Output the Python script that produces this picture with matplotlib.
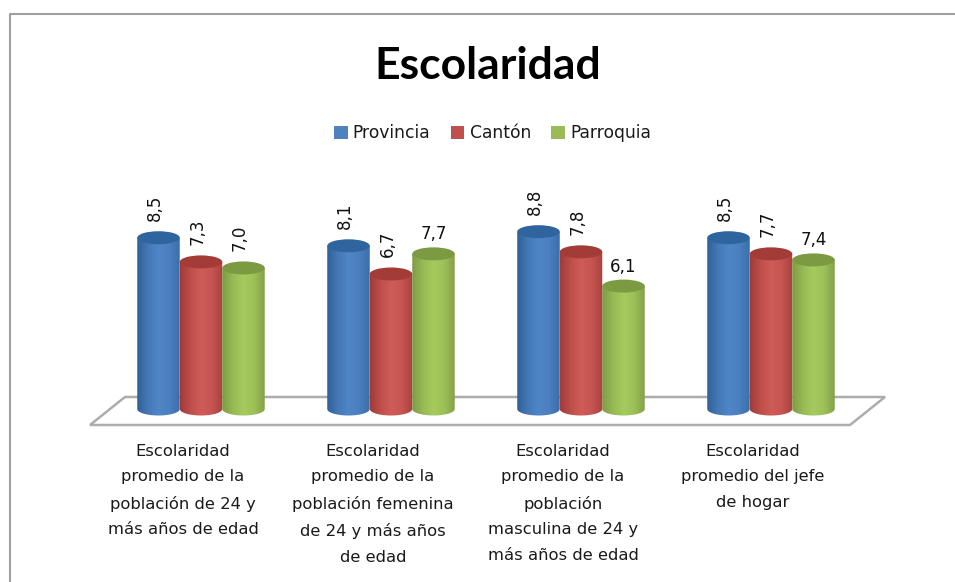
import numpy as np
import matplotlib
matplotlib.use("Agg")
import matplotlib.pyplot as plt
from matplotlib.colors import LinearSegmentedColormap
from matplotlib.patches import Ellipse, Patch, Polygon, PathPatch
from matplotlib.path import Path
from matplotlib.lines import Line2D

title = "Escolaridad"
categories = [
    "Escolaridad\npromedio de la\npoblación de 24 y\nmás años de edad",
    "Escolaridad\npromedio de la\npoblación femenina\nde 24 y más años\nde edad",
    "Escolaridad\npromedio de la\npoblación\nmasculina de 24 y\nmás años de edad",
    "Escolaridad\npromedio del jefe\nde hogar",
]
series_names = ["Provincia", "Cantón", "Parroquia"]
provincia = [8.5, 8.1, 8.8, 8.5]
canton = [7.3, 6.7, 7.8, 7.7]
parroquia = [7.0, 7.7, 6.1, 7.4]
label_rotation = [[90, 90, 90, 90], [90, 90, 90, 90], [90, 0, 0, 0]]

W, H = 955, 582
fig = plt.figure(figsize=(W / 100, H / 100), dpi=100, facecolor="white")

# plot region in pixels
px_left, px_right = 90, 850
px_floor_front, px_base = 425, 409
px_per_unit = 20.15
ax_top_px = 180
ax = fig.add_axes([px_left / W, 1 - px_floor_front / H,
                   (px_right - px_left) / W, (px_floor_front - ax_top_px) / H])
ax.set_xlim(-0.5, 3.5)
y_bottom = -(px_floor_front - px_base) / px_per_unit
y_top = (px_base - ax_top_px) / px_per_unit
ax.set_ylim(y_bottom, y_top)
ax.axis("off")

# outer frame (left and top edges only)
fig.add_artist(Line2D([9.5 / W, 9.5 / W, 1],
                      [0, 1 - 13.5 / H, 1 - 13.5 / H],
                      color="#a0a0a0", lw=1.5, transform=fig.transFigure))

# floor
unit_x = 190.0
depth_x = 35 / unit_x
floor_back = (px_base - 397) / px_per_unit
ax.add_patch(Polygon([(-0.5, y_bottom), (3.5, y_bottom), (3.5 + depth_x, floor_back),
                      (-0.5 + depth_x, floor_back)], closed=True, facecolor="white",
                     edgecolor="#adadad", lw=1.8, clip_on=False, zorder=1))

palette = [
    (["#2f6099", "#4478b6", "#4f86c6", "#4a80bf", "#3a6fab"], "#2f659f"),
    (["#a03c39", "#bf4e4a", "#d05c58", "#c65450", "#a8423f"], "#a33b37"),
    (["#7f9b46", "#97ba54", "#a6ca5e", "#9dc158", "#84a24a"], "#7b9a41"),
]
bar_w = 42.5 / unit_x
offset = 16 / unit_x
ell_h = 13 / px_per_unit
grad = np.linspace(0, 1, 64).reshape(1, -1)
all_series = [provincia, canton, parroquia]

z = 3
for s, values in enumerate(all_series):
    cols, topc = palette[s]
    cmap = LinearSegmentedColormap.from_list(series_names[s], cols)
    for i, v in enumerate(values):
        xc = i + offset + (s - 1) * bar_w
        x0, x1 = xc - bar_w / 2, xc + bar_w / 2
        t = np.linspace(np.pi, 2 * np.pi, 40)
        bx = xc + bar_w / 2 * np.cos(t)
        by = ell_h / 2 * np.sin(t)
        verts = list(zip(bx, by)) + [(x1, v), (x0, v), (bx[0], by[0])]
        im = ax.imshow(grad, cmap=cmap, aspect="auto", zorder=z,
                       extent=(x0, x1, -ell_h, v + ell_h), interpolation="bilinear")
        clip = PathPatch(Path(verts), transform=ax.transData, fc="none", ec="none")
        ax.add_patch(clip)
        im.set_clip_path(clip)
        ax.add_patch(Ellipse((xc, v), bar_w, ell_h, facecolor=topc, edgecolor="none", zorder=z + 0.2))
        rot = label_rotation[s][i]
        lx = xc - (3.5 / unit_x if rot else 0)
        ly = v + ell_h / 2 + (0.52 if rot else 0.2)
        ax.text(lx, ly, f"{v:.1f}".replace(".", ","), rotation=rot, ha="center", va="bottom",
                fontsize=12, color="#111111", zorder=20, clip_on=False, family="DejaVu Sans")
    z += 1

ax.set_xlim(-0.5, 3.5)
ax.set_ylim(y_bottom, y_top)

# category labels
for i, lab in enumerate(categories):
    ax.annotate(lab, xy=(i, y_bottom), xytext=(-2, -19), textcoords="offset pixels",
                ha="center", va="top", fontsize=11.8, linespacing=1.87, color="#1a1a1a",
                family="DejaVu Sans", annotation_clip=False)

# title
fig.text(488 / W, 1 - 66 / H, title, ha="center", va="center", fontsize=32,
         fontweight="bold", family="Lato", color="#000000")

# legend
handles = [Patch(facecolor=c, edgecolor="none") for c in ["#4f81bd", "#c0504d", "#9bbb59"]]
fig.legend(handles, series_names, loc="center", bbox_to_anchor=(492.5 / W, 1 - 133 / H), ncol=3,
           frameon=False, handlelength=0.8, handleheight=0.8,
           handletextpad=0.3, columnspacing=1.2, labelcolor="#1a1a1a",
           prop={"family": "DejaVu Sans", "size": 12.3})

fig.savefig("out.png", dpi=100, facecolor="white")
